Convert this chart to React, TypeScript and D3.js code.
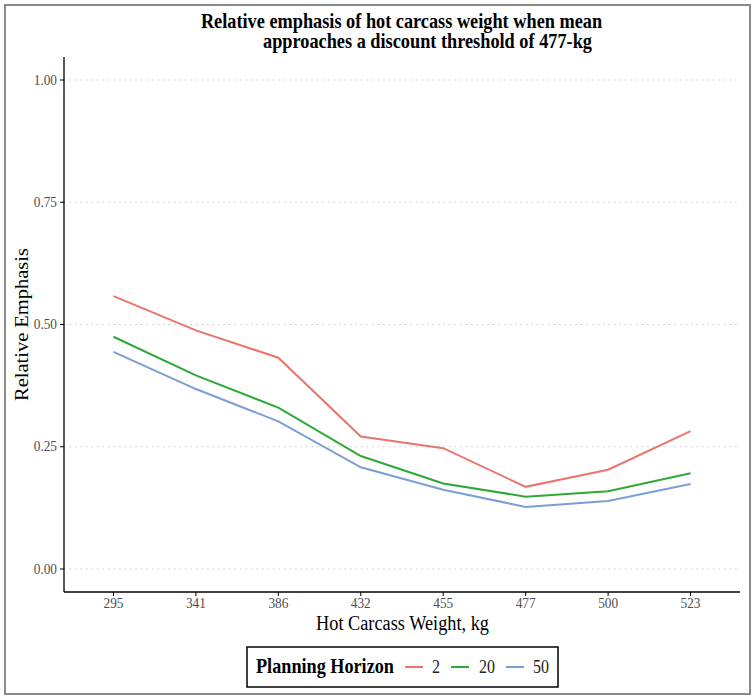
import React from "react";
import * as d3 from "d3";

const categories = ["295", "341", "386", "432", "455", "477", "500", "523"];
const horizons = ["2", "20", "50"];
const series2 = [0.558, 0.488, 0.432, 0.271, 0.247, 0.168, 0.203, 0.282];
const series20 = [0.475, 0.396, 0.330, 0.231, 0.175, 0.148, 0.159, 0.196];
const series50 = [0.444, 0.368, 0.302, 0.208, 0.162, 0.127, 0.139, 0.174];
const yTicks = [0, 0.25, 0.5, 0.75, 1.0];
const colors = ["#E8766D", "#2EA836", "#7B9ED4"];

const FONT = "'Liberation Serif', 'DejaVu Serif', serif";
const SY = 1.12;

function T(props: { x: number; y: number; children: React.ReactNode; [k: string]: any }) {
  const { x, y, children, ...rest } = props;
  return (
    <text transform={`translate(${x},${y}) scale(1,${SY})`} {...rest}>
      {children}
    </text>
  );
}

export default function App() {
  const W = 755, H = 700;
  const left = 64, right = 740, top = 57, bottom = 592;
  const x = d3.scalePoint<string>().domain(categories).range([left, right]).padding(0.6);
  const y = d3.scaleLinear().domain([0, 1]).range([569, 80]);
  const line = d3.line<number>().x((_, i) => x(categories[i])!).y((d) => y(d));
  const allSeries = [series2, series20, series50];

  const legendX = 247, legendY = 647, legendW = 311, legendH = 40;
  const keyStarts = [405, 451, 506];
  const labelX = [432, 479, 533];

  return (
    <svg width={W} height={H} style={{ position: "absolute", left: 0, top: 0 }} fontFamily={FONT}>
      <rect x={0} y={0} width={W} height={H} fill="#fff" />
      <rect x={5} y={5} width={745} height={689} fill="none" stroke="#8a8a8a" strokeWidth={2} />
      <T x={401.5} y={28} textAnchor="middle" fontWeight="bold" fontSize={18.3} fill="#000">
        Relative emphasis of hot carcass weight when mean
      </T>
      <T x={427.5} y={48} textAnchor="middle" fontWeight="bold" fontSize={18.3} fill="#000">
        approaches a discount threshold of 477-kg
      </T>
      {yTicks.map((t) => (
        <g key={t}>
          <line x1={left} x2={right} y1={y(t)} y2={y(t)} stroke="#c8c8c8" strokeWidth={1.2} strokeDasharray="1.5,4" />
          <line x1={left - 4} x2={left} y1={y(t)} y2={y(t)} stroke="#000" strokeWidth={1} />
          <T x={left - 7} y={y(t) + 4.5} textAnchor="end" fontSize={13.3} fill="#4d4d4d">
            {d3.format(".2f")(t)}
          </T>
        </g>
      ))}
      {categories.map((c) => (
        <g key={c}>
          <line x1={x(c)} x2={x(c)} y1={bottom} y2={bottom + 4} stroke="#000" strokeWidth={1} />
          <T x={x(c)!} y={bottom + 15.5} textAnchor="middle" fontSize={13.3} fill="#4d4d4d">
            {c}
          </T>
        </g>
      ))}
      <line x1={left} x2={left} y1={top} y2={bottom} stroke="#000" strokeWidth={1.3} />
      <line x1={left} x2={right} y1={bottom} y2={bottom} stroke="#000" strokeWidth={1.3} />
      {allSeries.map((s, i) => (
        <path key={i} d={line(s)!} fill="none" stroke={colors[i]} strokeWidth={2} />
      ))}
      <T x={402.5} y={630} textAnchor="middle" fontSize={18.3} fill="#000">
        Hot Carcass Weight, kg
      </T>
      <text
        transform={`translate(28, ${(y(0) + y(1)) / 2}) scale(1,${SY}) rotate(-90)`}
        textAnchor="middle"
        fontSize={18.3}
        fill="#000"
      >
        Relative Emphasis
      </text>
      <rect x={legendX} y={legendY} width={legendW} height={legendH} fill="#fff" stroke="#000" strokeWidth={1.5} />
      <T x={256} y={673} fontWeight="bold" fontSize={18.2} fill="#000">
        Planning Horizon
      </T>
      {horizons.map((h, i) => (
        <g key={h}>
          <line x1={keyStarts[i]} x2={keyStarts[i] + 18} y1={667} y2={667} stroke={colors[i]} strokeWidth={2} />
          <T x={labelX[i]} y={673} fontSize={16} fill="#222">
            {h}
          </T>
        </g>
      ))}
    </svg>
  );
}
